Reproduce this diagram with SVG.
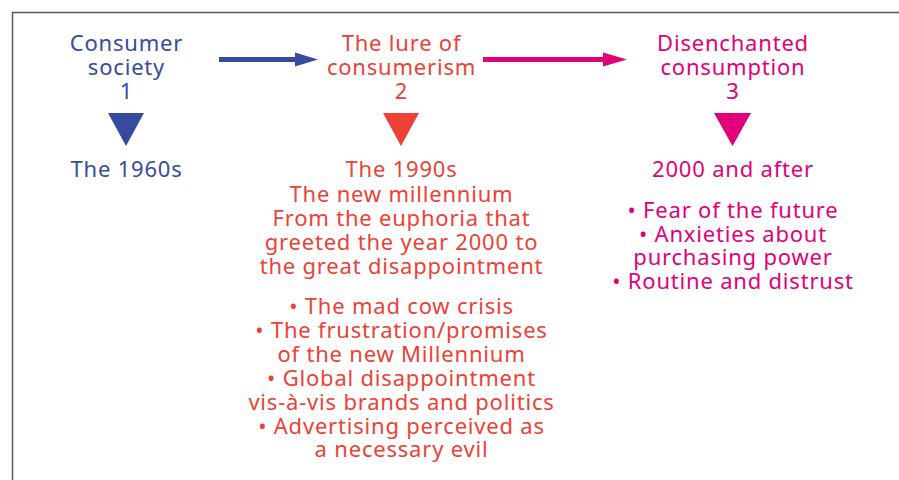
<svg xmlns="http://www.w3.org/2000/svg" width="899" height="480" viewBox="0 0 899 480">
  <style>
    text { font-family: "Noto Sans", "Open Sans", "Liberation Sans", sans-serif; font-size: 22px; letter-spacing: 0.8px; text-anchor: middle; }
    .blue { fill: #354b9e; }
    .red { fill: #ee4136; }
    .mag { fill: #e2007a; }
  </style>
  <rect width="899" height="480" fill="#ffffff"/>
  <!-- outer frame, open to the right and bottom -->
  <path d="M12.5 480 V12.5 H899" fill="none" stroke="#5a5a5a" stroke-width="1.5"/>

  <g id="connectors">
    <g id="arrow-1-2" class="blue">
      <rect x="219" y="57" width="78" height="5"/>
      <polygon points="295,52.5 318,59.5 295,66.5"/>
    </g>
    <g id="arrow-2-3" class="mag">
      <rect x="483" y="57" width="122" height="5"/>
      <polygon points="603,52.5 627,59.5 603,66.5"/>
    </g>
  </g>

  <g id="stage-1" class="blue">
    <text x="126.5" y="51">Consumer</text>
    <text x="126.5" y="75">society</text>
    <text x="126.5" y="99">1</text>
    <polygon points="108,113 144,113 126,146"/>
    <text x="126.5" y="177">The 1960s</text>
  </g>

  <g id="stage-2" class="red">
    <text x="401.5" y="51">The lure of</text>
    <text x="401.5" y="75">consumerism</text>
    <text x="401.5" y="99">2</text>
    <polygon points="383,113 419,113 401,146"/>
    <text x="401.5" y="177">The 1990s</text>
    <text x="401.5" y="201.5">The new millennium</text>
    <text x="401.5" y="225.5">From the euphoria that</text>
    <text x="401.5" y="249.5">greeted the year 2000 to</text>
    <text x="401.5" y="273.5">the great disappointment</text>
    <text x="401.5" y="313.5">• The mad cow crisis</text>
    <text x="401.5" y="337.5">• The frustration/promises</text>
    <text x="401.5" y="361.5">of the new Millennium</text>
    <text x="401.5" y="385.5">• Global disappointment</text>
    <text x="401.5" y="409.5">vis-à-vis brands and politics</text>
    <text x="401.5" y="433.5">• Advertising perceived as</text>
    <text x="401.5" y="457">a necessary evil</text>
  </g>

  <g id="stage-3" class="mag">
    <text x="733" y="51">Disenchanted</text>
    <text x="733" y="75">consumption</text>
    <text x="733" y="99">3</text>
    <polygon points="714,113 751,113 732.5,146"/>
    <text x="733" y="177">2000 and after</text>
    <text x="733" y="218">• Fear of the future</text>
    <text x="733" y="241.5">• Anxieties about</text>
    <text x="733" y="265">purchasing power</text>
    <text x="733" y="288.5">• Routine and distrust</text>
  </g>
</svg>
